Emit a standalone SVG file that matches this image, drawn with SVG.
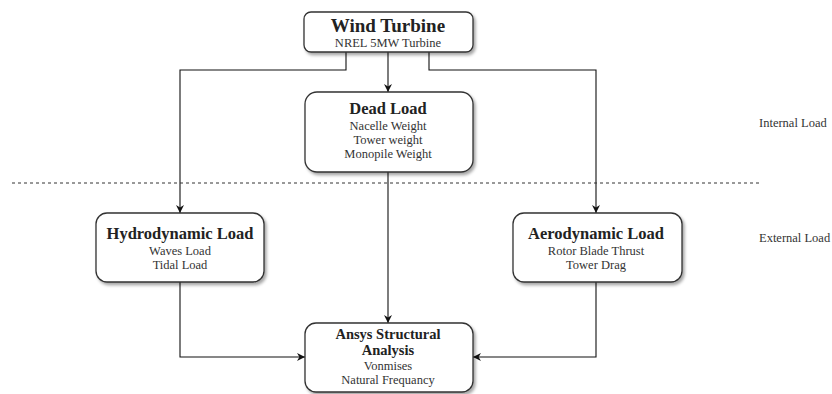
<svg xmlns="http://www.w3.org/2000/svg" width="832" height="394" viewBox="0 0 832 394">
<style>
.box{fill:#fff;stroke:#333;stroke-width:1.3;filter:url(#sh)}
.t{font-family:"Liberation Serif",serif;font-weight:bold;fill:#222;text-anchor:middle}
.s{font-family:"Liberation Serif",serif;font-size:12.5px;fill:#333;text-anchor:middle}
.lbl{font-family:"Liberation Serif",serif;font-size:12.5px;fill:#333}
.c{fill:none;stroke:#111;stroke-width:1.1}
</style>
<defs>
<filter id="sh" x="-10%" y="-10%" width="125%" height="130%">
<feDropShadow dx="2" dy="2.5" stdDeviation="1.5" flood-color="#000" flood-opacity="0.35"/>
</filter>
<marker id="a" viewBox="0 0 10 10" refX="10" refY="5" markerWidth="8" markerHeight="8" markerUnits="userSpaceOnUse" orient="auto">
<path d="M0,0 L10,5 L0,10 L3,5 Z" fill="#111"/>
</marker>
</defs>
<rect width="832" height="394" fill="#fff"/>
<g id="connectors">
<path class="c" d="M346,52 V70 H180 V213" marker-end="url(#a)"/>
<path class="c" d="M388,52 V92" marker-end="url(#a)"/>
<path class="c" d="M429,52 V70 H596 V213" marker-end="url(#a)"/>
<path class="c" d="M388,172 V323" marker-end="url(#a)"/>
<path class="c" d="M180,282 V357 H305" marker-end="url(#a)"/>
<path class="c" d="M596,282 V357 H473" marker-end="url(#a)"/>
</g>
<line x1="12" y1="183" x2="762" y2="183" stroke="#333" stroke-width="1" stroke-dasharray="3,3"/>
<g id="wind-turbine">
<rect class="box" x="304" y="12" width="169" height="40" rx="7"/>
<text class="t" x="388" y="32" font-size="19">Wind Turbine</text>
<text class="s" x="388" y="47">NREL 5MW Turbine</text>
</g>
<g id="dead-load">
<rect class="box" x="305" y="92" width="168" height="80" rx="12"/>
<text class="t" x="388" y="114" font-size="16.5">Dead Load</text>
<text class="s" x="388" y="130">Nacelle Weight</text>
<text class="s" x="388" y="144">Tower weight</text>
<text class="s" x="388" y="158">Monopile Weight</text>
</g>
<g id="hydrodynamic-load">
<rect class="box" x="96" y="213" width="168" height="69" rx="11"/>
<text class="t" x="180" y="239" font-size="16.5">Hydrodynamic Load</text>
<text class="s" x="180" y="255">Waves Load</text>
<text class="s" x="180" y="269">Tidal Load</text>
</g>
<g id="aerodynamic-load">
<rect class="box" x="513" y="213" width="169" height="69" rx="11"/>
<text class="t" x="596" y="239" font-size="16.5">Aerodynamic Load</text>
<text class="s" x="596" y="255">Rotor Blade Thrust</text>
<text class="s" x="596" y="269">Tower Drag</text>
</g>
<g id="ansys">
<rect class="box" x="305" y="323" width="168" height="69" rx="11"/>
<text class="t" x="388" y="339" font-size="14.5">Ansys Structural</text>
<text class="t" x="388" y="355" font-size="14.5">Analysis</text>
<text class="s" x="388" y="370">Vonmises</text>
<text class="s" x="388" y="384">Natural Frequancy</text>
</g>
<g id="labels">
<text class="lbl" x="759" y="127">Internal Load</text>
<text class="lbl" x="759" y="242">External Load</text>
</g>
</svg>
